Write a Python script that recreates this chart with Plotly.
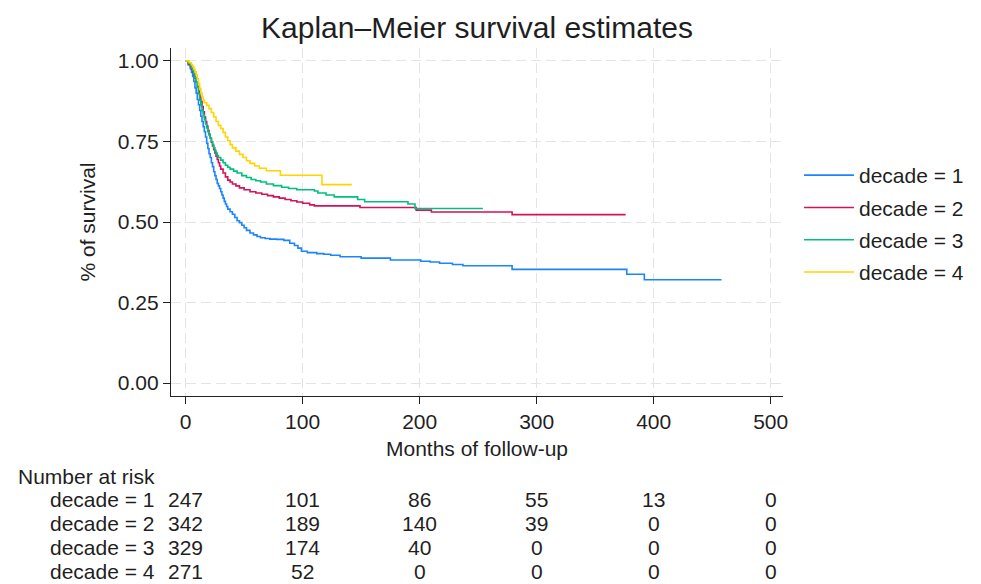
import plotly.graph_objects as go

# ---- Kaplan-Meier step data (time in months, survival) ----
t_dec1 = [0, 2, 4, 5, 6, 7, 8, 9, 10, 11, 12, 13, 14, 15, 16, 17, 18, 19, 20, 21, 22, 23, 24, 25, 26, 27,
          28, 29, 30, 31, 32, 33, 34, 35, 36, 38, 40, 42, 44, 46, 48, 50, 52, 55, 58, 61, 64, 68, 72, 78,
          84, 89, 93, 96, 99, 104, 112, 118, 124, 132, 150, 175, 201, 209, 217, 228, 237, 279, 377, 392]
s_dec1 = [1.0, 0.988, 0.976, 0.964, 0.952, 0.936, 0.916, 0.900, 0.880, 0.864, 0.846, 0.828, 0.812, 0.796,
          0.780, 0.764, 0.744, 0.728, 0.712, 0.700, 0.684, 0.672, 0.656, 0.644, 0.632, 0.620, 0.612, 0.604,
          0.594, 0.584, 0.574, 0.564, 0.556, 0.548, 0.540, 0.532, 0.524, 0.514, 0.504, 0.498, 0.490, 0.482,
          0.474, 0.466, 0.460, 0.455, 0.451, 0.449, 0.447, 0.446, 0.443, 0.434, 0.427, 0.419, 0.409, 0.405,
          0.402, 0.400, 0.397, 0.392, 0.388, 0.382, 0.378, 0.376, 0.372, 0.368, 0.364, 0.353, 0.338, 0.321]
end_dec1 = 458

t_dec2 = [0, 2, 3, 4, 5, 6, 7, 8, 9, 10, 11, 12, 13, 14, 15, 16, 17, 18, 19, 20, 21, 22, 23, 24, 25, 26,
          27, 28, 29, 30, 32, 34, 36, 38, 40, 43, 46, 50, 55, 60, 65, 70, 75, 80, 85, 90, 95, 100, 106, 110,
          149, 197, 210, 279]
s_dec2 = [1.0, 0.994, 0.988, 0.982, 0.974, 0.966, 0.956, 0.946, 0.934, 0.920, 0.906, 0.890, 0.874, 0.858,
          0.842, 0.826, 0.812, 0.798, 0.784, 0.772, 0.760, 0.748, 0.736, 0.724, 0.714, 0.704, 0.694, 0.684,
          0.674, 0.664, 0.652, 0.640, 0.630, 0.624, 0.618, 0.612, 0.606, 0.600, 0.594, 0.590, 0.586, 0.582,
          0.578, 0.574, 0.570, 0.566, 0.562, 0.558, 0.553, 0.550, 0.545, 0.537, 0.531, 0.523]
end_dec2 = 376

t_dec3 = [0, 2, 4, 5, 6, 7, 8, 9, 10, 11, 12, 13, 14, 15, 16, 17, 18, 19, 20, 21, 22, 23, 24, 25, 26, 27,
          28, 30, 32, 34, 36, 38, 41, 44, 48, 52, 56, 60, 64, 69, 75, 82, 88, 95, 110, 113, 120, 127, 147,
          153, 190, 196]
s_dec3 = [1.0, 0.994, 0.986, 0.978, 0.970, 0.960, 0.948, 0.934, 0.918, 0.898, 0.878, 0.862, 0.846, 0.832,
          0.818, 0.804, 0.792, 0.780, 0.770, 0.760, 0.750, 0.740, 0.730, 0.722, 0.714, 0.706, 0.700, 0.692,
          0.684, 0.676, 0.670, 0.664, 0.658, 0.652, 0.644, 0.638, 0.632, 0.628, 0.624, 0.618, 0.613, 0.608,
          0.604, 0.600, 0.596, 0.590, 0.584, 0.578, 0.570, 0.563, 0.556, 0.542]
end_dec3 = 254

t_dec4 = [0, 3, 5, 6, 7, 8, 9, 10, 11, 12, 13, 14, 15, 16, 18, 20, 22, 24, 26, 28, 30, 32, 34, 36, 38, 40,
          43, 46, 49, 52, 55, 59, 63, 69, 81, 116.5]
s_dec4 = [1.0, 0.994, 0.988, 0.982, 0.974, 0.966, 0.956, 0.944, 0.930, 0.914, 0.900, 0.888, 0.878, 0.870,
          0.862, 0.852, 0.840, 0.826, 0.812, 0.800, 0.790, 0.778, 0.764, 0.752, 0.740, 0.730, 0.720, 0.710,
          0.700, 0.690, 0.682, 0.674, 0.667, 0.659, 0.645, 0.616]
end_dec4 = 142

series_names = ["decade = 1", "decade = 2", "decade = 3", "decade = 4"]
series_colors = ["#1A85FF", "#D41159", "#00BF7F", "#FFD400"]

# ---- Number at risk table ----
risk_times = [0, 100, 200, 300, 400, 500]
risk_dec1 = [247, 101, 86, 55, 13, 0]
risk_dec2 = [342, 189, 140, 39, 0, 0]
risk_dec3 = [329, 174, 40, 0, 0, 0]
risk_dec4 = [271, 52, 0, 0, 0, 0]

x_ticks = [0, 100, 200, 300, 400, 500]
y_ticks = [0, 0.25, 0.5, 0.75, 1.0]
y_ticklabels = ["0.00", "0.25", "0.50", "0.75", "1.00"]

FONT = "Liberation Sans, Arial, Helvetica, sans-serif"
TXT = "#1f1f1f"
FS = 21

W, H = 981, 584
ML, MR, MT, MB = 171, 196, 48, 188
PW, PH = W - ML - MR, H - MT - MB

fig = go.Figure()
all_t = [t_dec1, t_dec2, t_dec3, t_dec4]
all_s = [s_dec1, s_dec2, s_dec3, s_dec4]
ends = [end_dec1, end_dec2, end_dec3, end_dec4]
for name, t, s, e, c in zip(series_names, all_t, all_s, ends, series_colors):
    fig.add_trace(go.Scatter(
        x=list(t) + [e], y=list(s) + [s[-1]], mode="lines", name=name, legendgroup=name,
        line=dict(color=c, width=1.6, shape="hv"), hoverinfo="skip"))

def py(pix):  # pixel row -> paper y
    return (H - MB - pix) / PH

def px(pix):  # pixel col -> paper x
    return (pix - ML) / PW

ann = []
ann.append(dict(text="Number at risk", x=px(15), y=py(476), xref="paper", yref="paper",
                xanchor="left", yanchor="middle", showarrow=False, font=dict(size=FS, color=TXT, family=FONT)))
rows = [risk_dec1, risk_dec2, risk_dec3, risk_dec4]
row_pix = [499, 523, 547, 571]
for name, vals, rp in zip(series_names, rows, row_pix):
    ann.append(dict(text=name, x=px(48), y=py(rp), xref="paper", yref="paper",
                    xanchor="left", yanchor="middle", showarrow=False,
                    font=dict(size=FS, color=TXT, family=FONT)))
    for tx, v in zip(risk_times, vals):
        ann.append(dict(text=str(v), x=tx, y=py(rp), xref="x", yref="paper",
                        xanchor="center", yanchor="middle", showarrow=False,
                        font=dict(size=FS, color=TXT, family=FONT)))

axis_common = dict(showline=True, linecolor="#222222", linewidth=1.3, ticks="outside", ticklen=7,
                   tickwidth=1.3, tickcolor="#222222", showgrid=True, gridcolor="#e4e4e4", gridwidth=1,
                   griddash="10px,5px", zeroline=False, tickfont=dict(size=FS, color=TXT, family=FONT),
                   mirror=False)

fig.update_layout(
    width=W, height=H, autosize=False,
    margin=dict(l=ML, r=MR, t=MT, b=MB, pad=0),
    paper_bgcolor="white", plot_bgcolor="white",
    font=dict(family=FONT, size=FS, color=TXT),
    title=dict(text="Kaplan–Meier survival estimates", x=0.5, xref="paper", xanchor="center",
               y=1 - 27 / H, yref="container", yanchor="middle",
               font=dict(size=30, color=TXT, family=FONT)),
    xaxis=dict(range=[-12.5, 510.5], tickvals=x_ticks, ticktext=[str(v) for v in x_ticks],
               title=dict(text="Months of follow-up", font=dict(size=FS, color=TXT, family=FONT), standoff=8),
               **axis_common),
    yaxis=dict(range=[-0.04, 1.04], tickvals=y_ticks, ticktext=y_ticklabels,
               title=dict(text="% of survival", font=dict(size=FS, color=TXT, family=FONT), standoff=16),
               **axis_common),
    showlegend=True,
    legend=dict(x=px(801), y=py(155), xanchor="left", yanchor="top", xref="paper", yref="paper",
                font=dict(size=FS, color=TXT, family=FONT), itemwidth=50, bgcolor="rgba(0,0,0,0)",
                borderwidth=0, traceorder="grouped", tracegroupgap=2),
    annotations=ann,
)

fig.write_html("out.html", config={"displayModeBar": False},
               post_script="document.body.style.margin='0';document.body.style.overflow='hidden';")
